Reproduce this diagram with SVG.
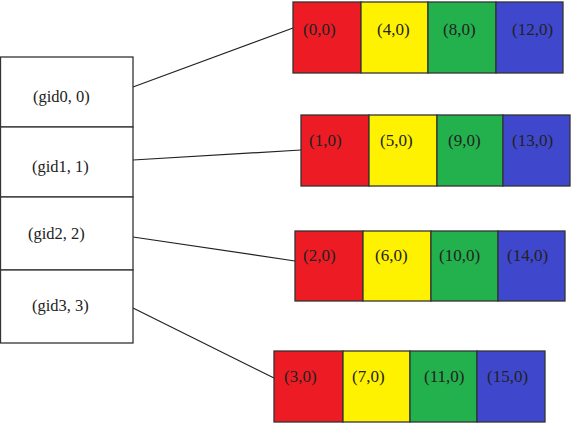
<svg xmlns="http://www.w3.org/2000/svg" width="577" height="435" viewBox="0 0 577 435">
<style>
.box{fill:#ffffff;stroke:#333;stroke-width:1.3}
.c{stroke:#333;stroke-width:1.3}
.r{fill:#ED1C24}.y{fill:#FFF200}.g{fill:#22B14C}.b{fill:#3F48CC}
text{font-family:"Liberation Serif","Times New Roman",serif;fill:#222}
.lt{font-size:16.5px}
.ct{font-size:17px}
.ln{stroke:#222;stroke-width:1.2;fill:none}
</style>
<rect width="577" height="435" fill="#ffffff"/>
<g id="connectors">
<line class="ln" x1="133" y1="87" x2="293" y2="28"/>
<line class="ln" x1="133" y1="160" x2="301" y2="150"/>
<line class="ln" x1="133" y1="237" x2="295" y2="261"/>
<line class="ln" x1="133" y1="308" x2="274" y2="378"/>
</g>
<g id="gid0"><rect class="box" x="0.5" y="57" width="132.5" height="70"/><text class="lt" x="33" y="102">(gid0, 0)</text></g>
<g id="gid1"><rect class="box" x="0.5" y="127" width="132.5" height="70"/><text class="lt" x="32" y="172">(gid1, 1)</text></g>
<g id="gid2"><rect class="box" x="0.5" y="197" width="132.5" height="73"/><text class="lt" x="28" y="239">(gid2, 2)</text></g>
<g id="gid3"><rect class="box" x="0.5" y="270" width="132.5" height="73"/><text class="lt" x="32" y="311">(gid3, 3)</text></g>
<g id="row0">
<rect class="r c" x="293" y="2" width="68" height="71"/>
<rect class="y c" x="361" y="2" width="67" height="71"/>
<rect class="g c" x="428" y="2" width="68" height="71"/>
<rect class="b c" x="496" y="2" width="67" height="71"/>
<text class="ct" x="303" y="35">(0,0)</text>
<text class="ct" x="377" y="35">(4,0)</text>
<text class="ct" x="443" y="35">(8,0)</text>
<text class="ct" x="512" y="35">(12,0)</text>
</g>
<g id="row1">
<rect class="r c" x="301" y="115" width="68" height="71"/>
<rect class="y c" x="369" y="115" width="68" height="71"/>
<rect class="g c" x="437" y="115" width="66" height="71"/>
<rect class="b c" x="503" y="115" width="67" height="71"/>
<text class="ct" x="309" y="146">(1,0)</text>
<text class="ct" x="380" y="146">(5,0)</text>
<text class="ct" x="448" y="146">(9,0)</text>
<text class="ct" x="512" y="146">(13,0)</text>
</g>
<g id="row2">
<rect class="r c" x="295" y="231" width="68" height="70"/>
<rect class="y c" x="363" y="231" width="68" height="70"/>
<rect class="g c" x="431" y="231" width="67" height="70"/>
<rect class="b c" x="498" y="231" width="67" height="70"/>
<text class="ct" x="303" y="261">(2,0)</text>
<text class="ct" x="375" y="261">(6,0)</text>
<text class="ct" x="439" y="261">(10,0)</text>
<text class="ct" x="507" y="261">(14,0)</text>
</g>
<g id="row3">
<rect class="r c" x="274" y="351" width="69" height="71"/>
<rect class="y c" x="343" y="351" width="67" height="71"/>
<rect class="g c" x="410" y="351" width="67" height="71"/>
<rect class="b c" x="477" y="351" width="68" height="71"/>
<text class="ct" x="284" y="382">(3,0)</text>
<text class="ct" x="352" y="382">(7,0)</text>
<text class="ct" x="424" y="382">(11,0)</text>
<text class="ct" x="487" y="382">(15,0)</text>
</g>
</svg>
